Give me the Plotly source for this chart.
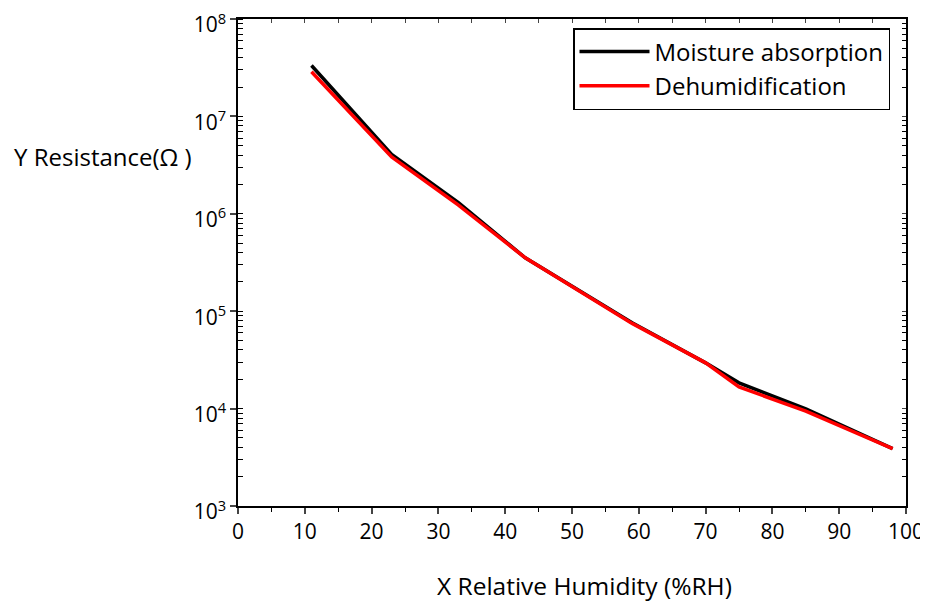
import plotly.graph_objects as go

humidity = [11, 23, 33, 43, 59, 70, 75, 85, 98]
absorption = [3.33e7, 4.06e6, 1.30e6, 3.53e5, 7.6e4, 2.95e4, 1.84e4, 9.95e3, 3.89e3]
dehumid = [2.87e7, 3.83e6, 1.23e6, 3.53e5, 7.5e4, 2.95e4, 1.67e4, 9.4e3, 3.89e3]

y_tickvals = [1e3, 1e4, 1e5, 1e6, 1e7, 1e8]
y_ticktext = ["10<sup>3</sup>", "10<sup>4</sup>", "10<sup>5</sup>", "10<sup>6</sup>", "10<sup>7</sup>", "10<sup>8</sup>"]
x_tickvals = list(range(0, 101, 10))

FONT = "'Open Sans', 'Noto Sans', sans-serif"

fig = go.Figure()
fig.add_trace(go.Scatter(x=humidity, y=absorption, mode="lines", name="Moisture absorption",
                         legendgroup="a", line=dict(color="black", width=3.5)))
fig.add_trace(go.Scatter(x=humidity, y=dehumid, mode="lines", name="Dehumidification",
                         legendgroup="b", line=dict(color="#ff0000", width=3.5)))
# invisible trace hosting the top/right tick axes
fig.add_trace(go.Scatter(x=[0, 100], y=[1e3, 1e8], xaxis="x2", yaxis="y2", mode="markers",
                         marker=dict(opacity=0), showlegend=False, hoverinfo="skip"))

# page body has an 8px margin, so the figure is 8px smaller and shifted
fig.update_layout(
    width=920, height=597,
    margin=dict(l=230, r=22, t=11, b=99, autoexpand=False),
    paper_bgcolor="white", plot_bgcolor="white",
    font=dict(family=FONT, size=21, color="black"),
    showlegend=True,
    legend=dict(x=0.5015, y=0.9815, xanchor="left", yanchor="top",
                bordercolor="black", borderwidth=1.5, bgcolor="white",
                font=dict(family=FONT, size=24, color="black"),
                tracegroupgap=0, itemwidth=70),
    xaxis=dict(range=[0, 100], tickvals=x_tickvals, ticks="outside", ticklen=6, tickwidth=1.5,
               showline=True, linecolor="black", linewidth=1.5, showgrid=False, zeroline=False,
               minor=dict(dtick=5, ticks="outside", ticklen=4, tickwidth=1, tickcolor="black"),
               tickfont=dict(size=21), automargin=False, ticklabeloverflow="allow"),
    yaxis=dict(type="log", range=[3, 8], tickvals=y_tickvals, ticktext=y_ticktext,
               ticks="outside", ticklen=6, tickwidth=1.5,
               showline=True, linecolor="black", linewidth=1.5, showgrid=False, zeroline=False,
               minor=dict(dtick="D1", ticks="inside", ticklen=5, tickwidth=1, tickcolor="black"),
               tickfont=dict(size=21), automargin=False, ticklabeloverflow="allow",
               ticklabelshift=6),
    xaxis2=dict(overlaying="x", side="top", range=[0, 100], dtick=5, ticks="inside", ticklen=4,
                tickwidth=1, showticklabels=False, showline=True, linecolor="black", linewidth=1.5,
                showgrid=False, zeroline=False, automargin=False),
    yaxis2=dict(overlaying="y", side="right", type="log", range=[3, 8], tickvals=y_tickvals,
                ticks="inside", ticklen=4, tickwidth=1, showticklabels=False,
                minor=dict(dtick="D1", ticks="inside", ticklen=4, tickwidth=1, tickcolor="black"),
                showline=True, linecolor="black", linewidth=1.5, showgrid=False, zeroline=False,
                automargin=False),
    annotations=[
        dict(text="Y Resistance(Ω )", xref="paper", yref="paper", x=-0.338, y=0.718,
             xanchor="left", yanchor="middle", showarrow=False, font=dict(family=FONT, size=24)),
        dict(text="X Relative Humidity (%RH)", xref="paper", yref="paper", x=0.519, y=-0.163,
             xanchor="center", yanchor="middle", showarrow=False, font=dict(family=FONT, size=24.5)),
    ],
)

fig.write_html("out.html")
